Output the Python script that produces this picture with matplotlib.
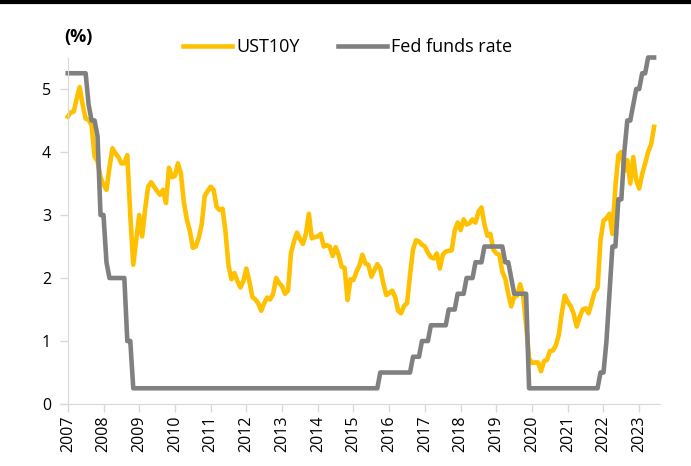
import matplotlib
matplotlib.use('Agg')
import matplotlib.pyplot as plt
from matplotlib.lines import Line2D

plt.rcParams['font.family'] = ['Open Sans', 'DejaVu Sans']

# monthly data, Jan 2007 onwards (one row per year)
ust10y = [
    4.56, 4.63, 4.64, 4.85, 5.03, 4.75, 4.53, 4.51, 4.42, 3.93, 3.85, 3.60,  # 2007
    3.48, 3.40, 3.75, 4.06, 3.98, 3.92, 3.82, 3.82, 3.95, 3.00, 2.21, 2.60,  # 2008
    3.00, 2.66, 3.10, 3.45, 3.52, 3.45, 3.38, 3.32, 3.40, 3.19, 3.75, 3.60,  # 2009
    3.62, 3.82, 3.66, 3.20, 2.93, 2.75, 2.48, 2.50, 2.64, 2.85, 3.30, 3.38,  # 2010
    3.45, 3.40, 3.13, 3.08, 3.10, 2.73, 2.20, 1.98, 2.08, 1.95, 1.85, 1.95,  # 2011
    2.15, 1.95, 1.70, 1.66, 1.60, 1.48, 1.60, 1.69, 1.66, 1.75, 2.00, 1.92,  # 2012
    1.87, 1.75, 1.80, 2.40, 2.58, 2.72, 2.62, 2.54, 2.70, 3.02, 2.63, 2.65,  # 2013
    2.66, 2.70, 2.50, 2.52, 2.50, 2.35, 2.49, 2.37, 2.18, 2.16, 1.65, 1.98,  # 2014
    1.97, 2.10, 2.20, 2.37, 2.23, 2.21, 2.02, 2.12, 2.22, 2.15, 1.92, 1.73,  # 2015
    1.76, 1.80, 1.70, 1.48, 1.44, 1.56, 1.60, 2.05, 2.45, 2.60, 2.58, 2.53,  # 2016
    2.50, 2.40, 2.33, 2.31, 2.39, 2.15, 2.37, 2.42, 2.43, 2.44, 2.75, 2.88,  # 2017
    2.76, 2.93, 2.85, 2.87, 2.93, 2.88, 3.05, 3.12, 2.85, 2.67, 2.70, 2.45,  # 2018
    2.39, 2.37, 2.10, 1.99, 1.75, 1.55, 1.70, 1.72, 1.90, 1.72, 1.25, 0.72,  # 2019
    0.65, 0.66, 0.66, 0.52, 0.68, 0.70, 0.84, 0.85, 0.93, 1.10, 1.45, 1.72,  # 2020
    1.62, 1.55, 1.43, 1.23, 1.38, 1.50, 1.52, 1.44, 1.60, 1.78, 1.84, 2.60,  # 2021
    2.91, 2.95, 3.02, 2.70, 3.45, 3.95, 4.00, 3.70, 3.87, 3.50, 3.92, 3.55,  # 2022
    3.42, 3.65, 3.82, 4.00, 4.12, 4.40,                                      # 2023
]

fed_funds = [
    5.25, 5.25, 5.25, 5.25, 5.25, 5.25, 5.25, 4.75, 4.50, 4.50, 4.25, 3.00,  # 2007
    3.00, 2.25, 2.00, 2.00, 2.00, 2.00, 2.00, 2.00, 1.00, 1.00, 0.25, 0.25,  # 2008
    0.25, 0.25, 0.25, 0.25, 0.25, 0.25, 0.25, 0.25, 0.25, 0.25, 0.25, 0.25,  # 2009
    0.25, 0.25, 0.25, 0.25, 0.25, 0.25, 0.25, 0.25, 0.25, 0.25, 0.25, 0.25,  # 2010
    0.25, 0.25, 0.25, 0.25, 0.25, 0.25, 0.25, 0.25, 0.25, 0.25, 0.25, 0.25,  # 2011
    0.25, 0.25, 0.25, 0.25, 0.25, 0.25, 0.25, 0.25, 0.25, 0.25, 0.25, 0.25,  # 2012
    0.25, 0.25, 0.25, 0.25, 0.25, 0.25, 0.25, 0.25, 0.25, 0.25, 0.25, 0.25,  # 2013
    0.25, 0.25, 0.25, 0.25, 0.25, 0.25, 0.25, 0.25, 0.25, 0.25, 0.25, 0.25,  # 2014
    0.25, 0.25, 0.25, 0.25, 0.25, 0.25, 0.25, 0.25, 0.25, 0.50, 0.50, 0.50,  # 2015
    0.50, 0.50, 0.50, 0.50, 0.50, 0.50, 0.50, 0.50, 0.75, 0.75, 0.75, 1.00,  # 2016
    1.00, 1.00, 1.25, 1.25, 1.25, 1.25, 1.25, 1.25, 1.50, 1.50, 1.50, 1.75,  # 2017
    1.75, 1.75, 2.00, 2.00, 2.00, 2.25, 2.25, 2.25, 2.50, 2.50, 2.50, 2.50,  # 2018
    2.50, 2.50, 2.50, 2.25, 2.25, 2.00, 1.75, 1.75, 1.75, 1.75, 1.75, 0.25,  # 2019
    0.25, 0.25, 0.25, 0.25, 0.25, 0.25, 0.25, 0.25, 0.25, 0.25, 0.25, 0.25,  # 2020
    0.25, 0.25, 0.25, 0.25, 0.25, 0.25, 0.25, 0.25, 0.25, 0.25, 0.25, 0.50,  # 2021
    0.50, 1.00, 1.75, 2.50, 2.50, 3.25, 3.25, 4.00, 4.50, 4.50, 4.75, 5.00,  # 2022
    5.00, 5.25, 5.25, 5.50, 5.50, 5.50,                                      # 2023
]

years = [str(y) for y in range(2007, 2024)]

YELLOW = '#FFC000'
GREY = '#808080'
AXIS_GREY = '#D9D9D9'

fig = plt.figure(figsize=(6.91, 4.66), dpi=100)
ax = fig.add_axes([0.0981, 0.1330, 0.8614, 0.7436])

months = list(range(len(ust10y)))
ax.plot(months, ust10y, color=YELLOW, lw=3.3, label='UST10Y',
        solid_joinstyle='round', clip_on=False)
ax.plot(months, fed_funds, color=GREY, lw=3.3, label='Fed funds rate',
        solid_joinstyle='round', clip_on=False)

ax.set_xlim(0, 200)
ax.set_ylim(0, 5.5)
ax.set_yticks([0, 1, 2, 3, 4, 5])
ax.set_xticks([12 * i for i in range(len(years))])
ax.set_xticklabels(years, rotation=90)

for s in ['top', 'right']:
    ax.spines[s].set_visible(False)
ax.spines['left'].set_color(AXIS_GREY)
ax.spines['bottom'].set_color(AXIS_GREY)
ax.spines['bottom'].set_bounds(-2.5, 199)
ax.tick_params(axis='both', colors=AXIS_GREY, labelcolor='black',
               labelsize=11.5, length=6, width=1)
ax.tick_params(axis='y', pad=6)
ax.tick_params(axis='x', pad=2)

fig.text(64 / 691, 1 - 37 / 466, '(%)', fontsize=13, fontweight='bold',
         ha='left', va='center')

fig.legend(loc='center', bbox_to_anchor=(0.503, 0.899), ncol=2, frameon=False,
           fontsize=13, handlelength=2.75, handletextpad=0.22, columnspacing=2.1,
           borderpad=0)

# black rule along the top
fig.add_artist(Line2D([0, 1], [1 - 2 / 466, 1 - 2 / 466], color='black', lw=3,
                      transform=fig.transFigure))

fig.savefig('out.png', dpi=100)
